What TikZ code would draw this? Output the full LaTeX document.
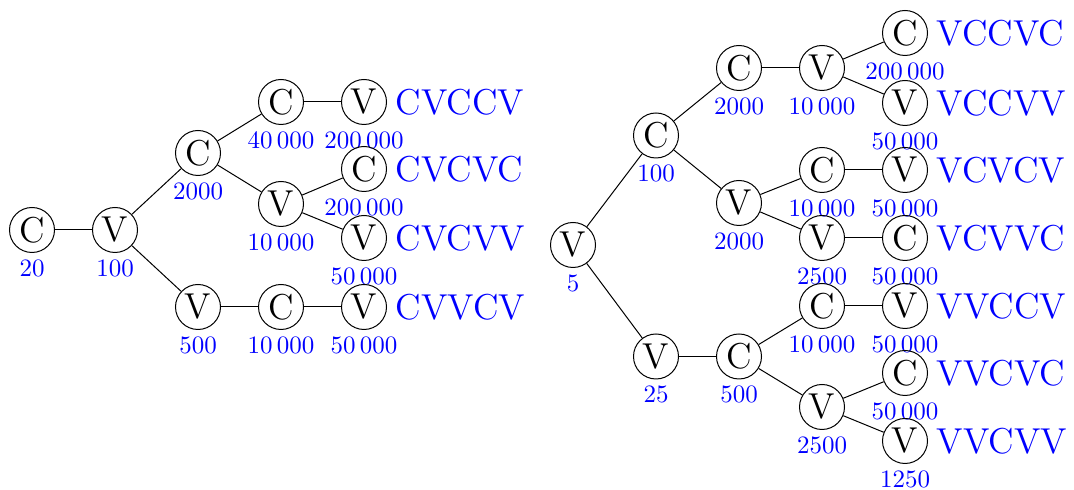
\documentclass[tikz,border=0pt]{standalone}
\usepackage{fontspec}
\begin{document}
\begin{tikzpicture}[x=0.4pt,y=-0.4pt,
  nd/.style={circle,draw,line width=0.4pt,minimum size=18pt,inner sep=0pt,font=\fontsize{14.4}{17}\selectfont},
  lab/.style={text=blue,font=\fontsize{10}{12}\selectfont,label distance=-0.9pt},
  word/.style={text=blue,font=\fontsize{14.4}{17}\selectfont},
  edge/.style={line width=0.4pt}]
\useasboundingbox (0,0) rectangle (1074,490);
% ---------- left tree ----------
\node[nd,label={[lab]below:20}] (a) at (32,230) {C};
\node[nd,label={[lab]below:100}] (b) at (115,230) {V};
\node[nd,label={[lab]below:2000}] (c) at (198,153) {C};
\node[nd,label={[lab]below:500}] (d) at (198,307) {V};
\node[nd,label={[lab]below:40\,000}] (e) at (281,102) {C};
\node[nd,label={[lab]below:10\,000}] (f) at (281,204) {V};
\node[nd,label={[lab]below:10\,000}] (g) at (281,307) {C};
\node[nd,label={[lab]below:200\,000},label={[word]right:CVCCV}] (h) at (364,102) {V};
\node[nd,label={[lab]below:200\,000},label={[word]right:CVCVC}] (i) at (364,169) {C};
\node[nd,label={[lab]below:50\,000},label={[word]right:CVCVV}] (j) at (364,238) {V};
\node[nd,label={[lab]below:50\,000},label={[word]right:CVVCV}] (k) at (364,307) {V};
\draw[edge] (a) -- (b);
\draw[edge] (b) -- (c);
\draw[edge] (b) -- (d);
\draw[edge] (c) -- (e);
\draw[edge] (c) -- (f);
\draw[edge] (d) -- (g);
\draw[edge] (e) -- (h);
\draw[edge] (f) -- (i);
\draw[edge] (f) -- (j);
\draw[edge] (g) -- (k);
% ---------- right tree ----------
\node[nd,label={[lab]below:5}] (r) at (573,245) {V};
\node[nd,label={[lab]below:100}] (r1) at (656,135.5) {C};
\node[nd,label={[lab]below:25}] (r2) at (656,356.5) {V};
\node[nd,label={[lab]below:2000}] (r11) at (739,68) {C};
\node[nd,label={[lab]below:2000}] (r12) at (739,203) {V};
\node[nd,label={[lab]below:500}] (r21) at (739,356.5) {C};
\node[nd,label={[lab]below:10\,000}] (r111) at (822,68) {V};
\node[nd,label={[lab]below:10\,000}] (r121) at (822,170) {C};
\node[nd,label={[lab]below:2500}] (r122) at (822,238) {V};
\node[nd,label={[lab]below:10\,000}] (r211) at (822,306) {C};
\node[nd,label={[lab]below:2500}] (r212) at (822,407) {V};
\node[nd,label={[lab]below:200\,000},label={[word]right:VCCVC}] (s1) at (905,33) {C};
\node[nd,label={[lab]below:50\,000},label={[word]right:VCCVV}] (s2) at (905,103) {V};
\node[nd,label={[lab]below:50\,000},label={[word]right:VCVCV}] (s3) at (905,170) {V};
\node[nd,label={[lab]below:50\,000},label={[word]right:VCVVC}] (s4) at (905,238) {C};
\node[nd,label={[lab]below:50\,000},label={[word]right:VVCCV}] (s5) at (905,306) {V};
\node[nd,label={[lab]below:50\,000},label={[word]right:VVCVC}] (s6) at (905,373) {C};
\node[nd,label={[lab]below:1250},label={[word]right:VVCVV}] (s7) at (905,441) {V};
\draw[edge] (r) -- (r1);
\draw[edge] (r) -- (r2);
\draw[edge] (r1) -- (r11);
\draw[edge] (r1) -- (r12);
\draw[edge] (r2) -- (r21);
\draw[edge] (r11) -- (r111);
\draw[edge] (r12) -- (r121);
\draw[edge] (r12) -- (r122);
\draw[edge] (r21) -- (r211);
\draw[edge] (r21) -- (r212);
\draw[edge] (r111) -- (s1);
\draw[edge] (r111) -- (s2);
\draw[edge] (r121) -- (s3);
\draw[edge] (r122) -- (s4);
\draw[edge] (r211) -- (s5);
\draw[edge] (r212) -- (s6);
\draw[edge] (r212) -- (s7);
\end{tikzpicture}
\end{document}
